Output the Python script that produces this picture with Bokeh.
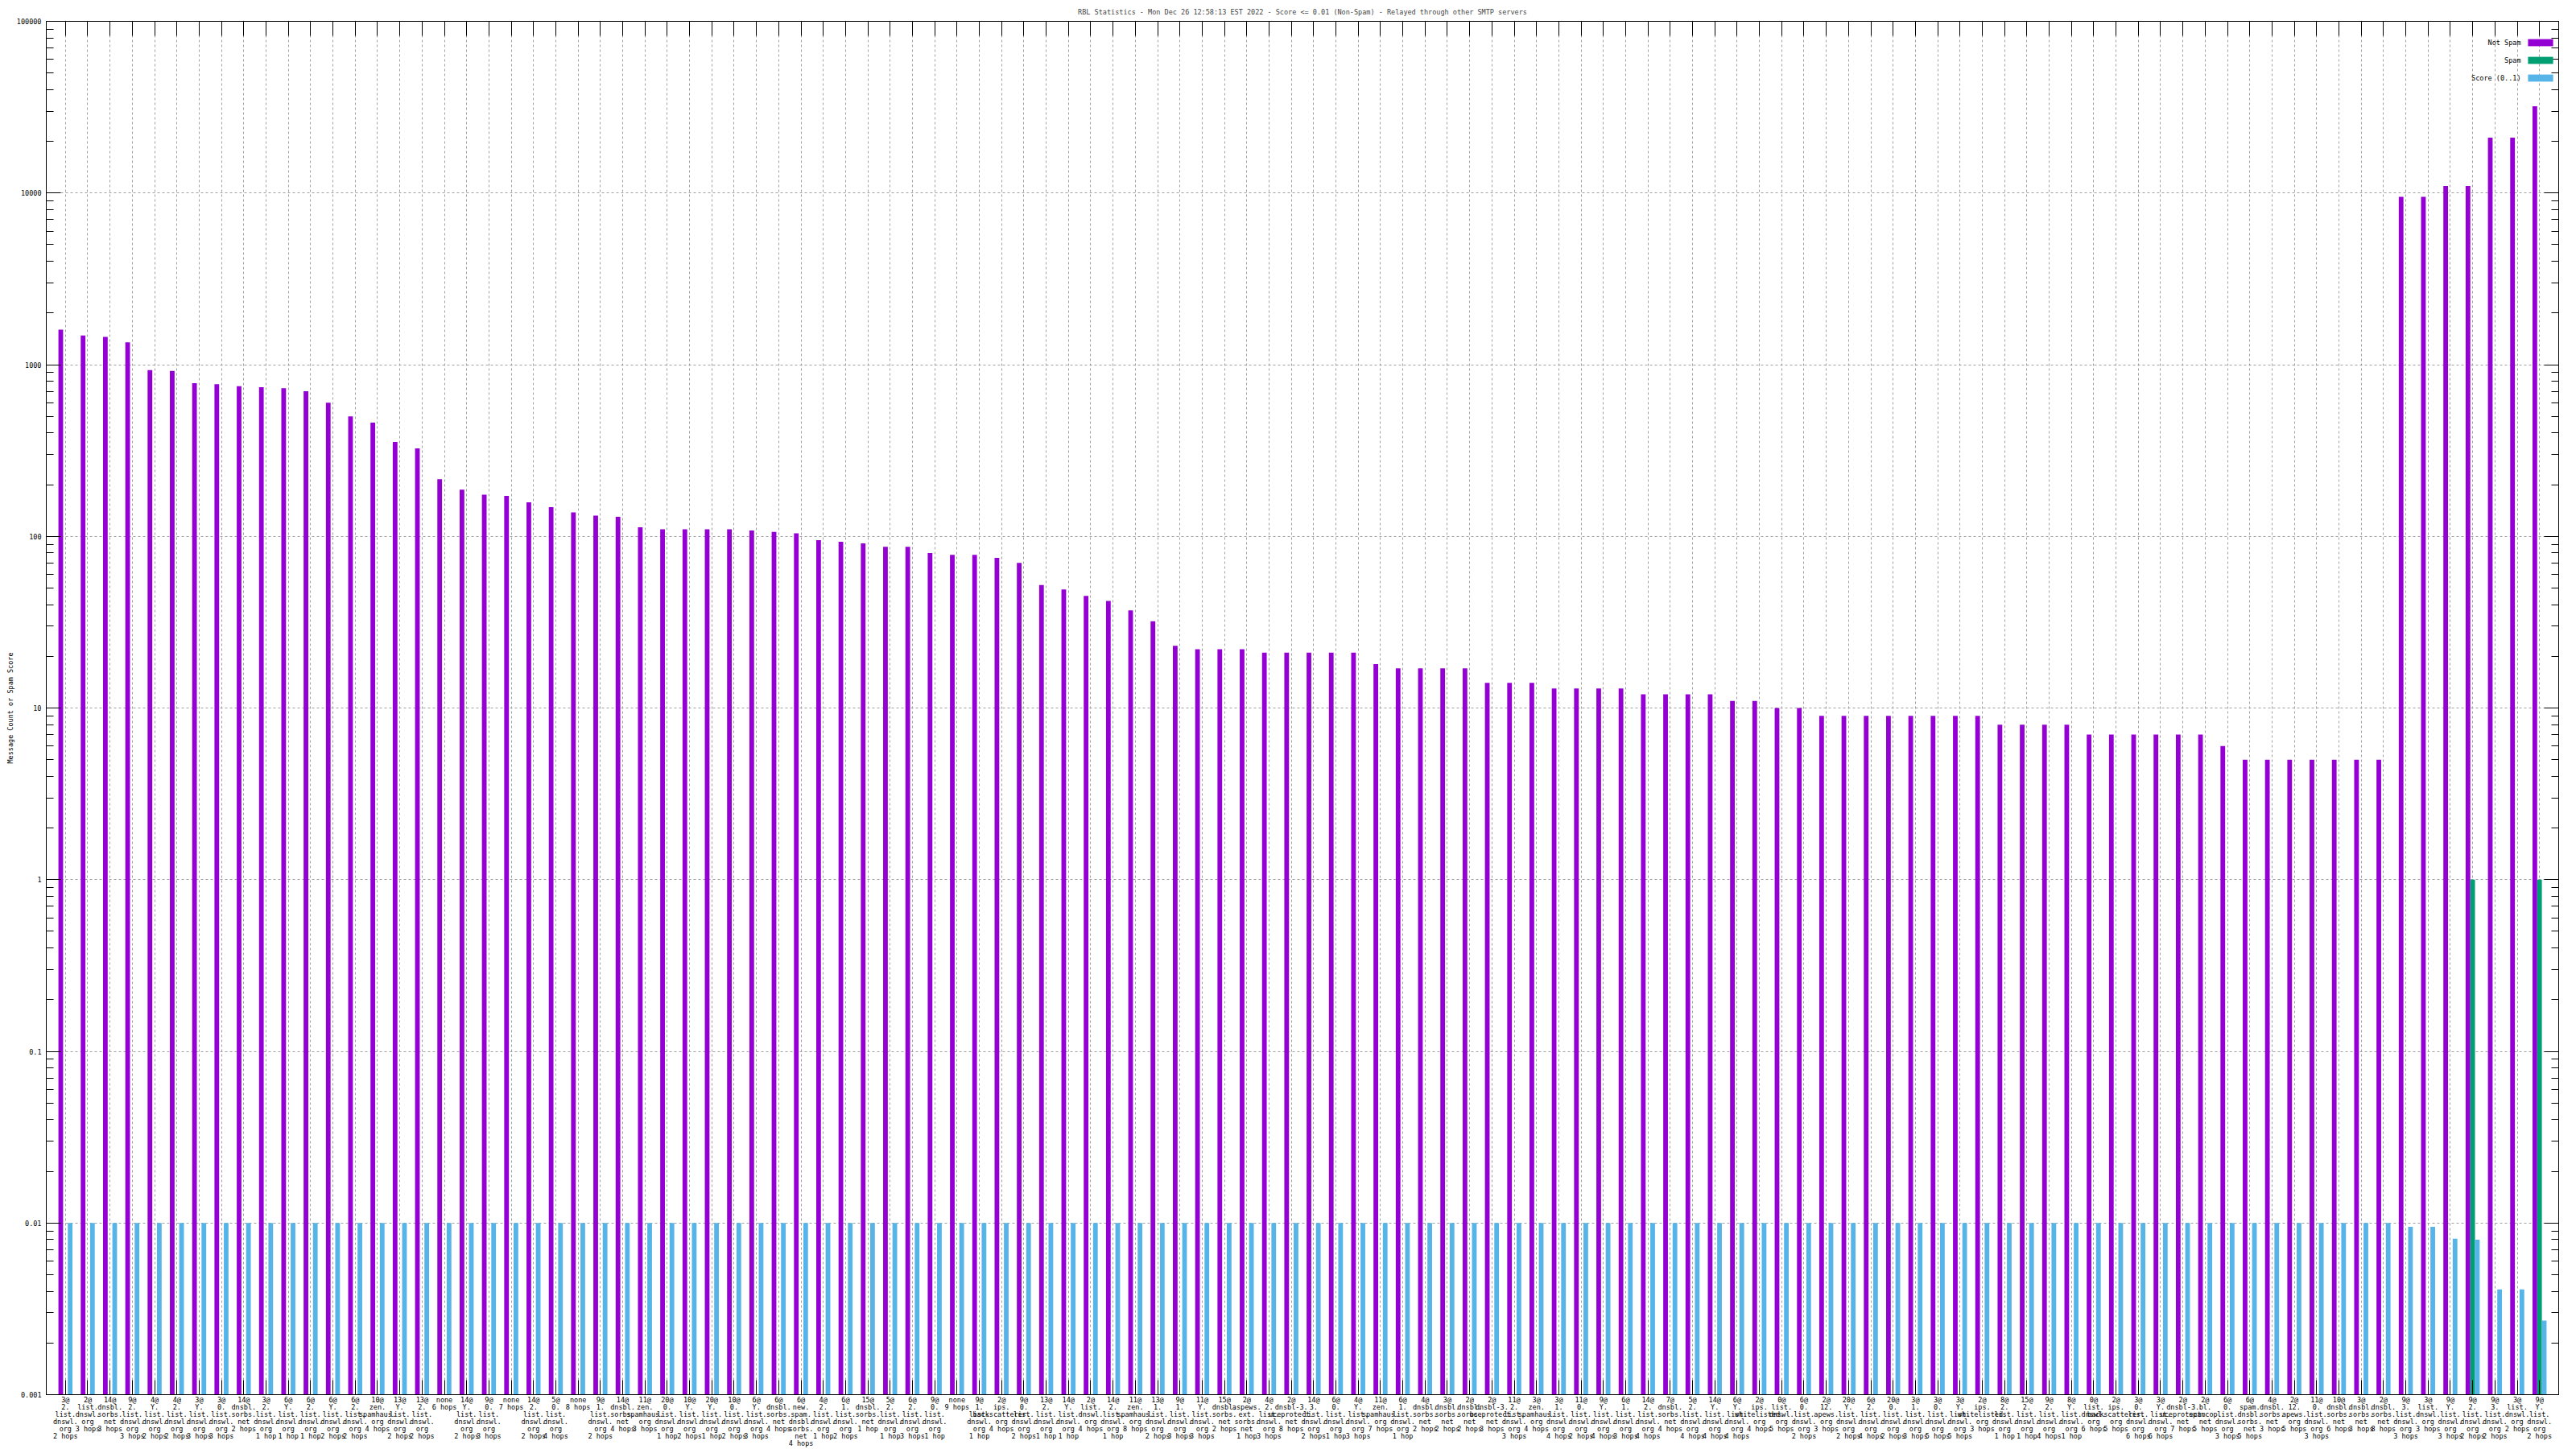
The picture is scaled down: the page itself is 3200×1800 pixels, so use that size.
from bokeh.plotting import figure
from bokeh.models import (FactorRange, Range1d, ColumnDataSource, FixedTicker, PrintfTickFormatter,
                          LogAxis, CategoricalAxis, CustomJSTickFormatter, Legend, LegendItem, Label)
from bokeh.transform import dodge
from bokeh.embed import file_html
from bokeh.resources import INLINE

TITLE = "RBL Statistics - Mon Dec 26 12:58:13 EST 2022 - Score <= 0.01 (Non-Spam) - Relayed through other SMTP servers"
Y_LABEL = "Message Count or Spam Score"
SERIES = ["Not Spam", "Spam", "Score (0..1)"]

categories = [
    "3@2.list.dnswl.org 2 hops", "2@list.dnswl.org 3 hops", "14@dnsbl.sorbs.net 3 hops",
    "9@2.list.dnswl.org 3 hops", "4@Y.list.dnswl.org 2 hops", "4@2.list.dnswl.org 2 hops",
    "3@Y.list.dnswl.org 3 hops", "3@0.list.dnswl.org 3 hops", "14@dnsbl.sorbs.net 2 hops",
    "3@2.list.dnswl.org 1 hop", "6@Y.list.dnswl.org 1 hop", "6@2.list.dnswl.org 1 hop",
    "6@Y.list.dnswl.org 2 hops", "6@2.list.dnswl.org 2 hops", "10@zen.spamhaus.org 4 hops",
    "13@Y.list.dnswl.org 2 hops", "13@2.list.dnswl.org 2 hops", "none 6 hops",
    "14@Y.list.dnswl.org 2 hops", "9@0.list.dnswl.org 3 hops", "none 7 hops",
    "14@2.list.dnswl.org 2 hops", "5@0.list.dnswl.org 4 hops", "none 8 hops",
    "9@1.list.dnswl.org 2 hops", "14@dnsbl.sorbs.net 4 hops", "11@zen.spamhaus.org 3 hops",
    "20@0.list.dnswl.org 1 hop", "10@Y.list.dnswl.org 2 hops", "20@Y.list.dnswl.org 1 hop",
    "10@0.list.dnswl.org 2 hops", "6@Y.list.dnswl.org 3 hops", "6@dnsbl.sorbs.net 4 hops",
    "6@new.spam.dnsbl.sorbs.net 4 hops", "4@2.list.dnswl.org 1 hop", "6@1.list.dnswl.org 2 hops",
    "15@dnsbl.sorbs.net 1 hop", "5@2.list.dnswl.org 1 hop", "6@2.list.dnswl.org 3 hops",
    "9@0.list.dnswl.org 1 hop", "none 9 hops", "9@1.list.dnswl.org 1 hop",
    "2@ips.backscatterer.org 4 hops", "9@0.list.dnswl.org 2 hops", "13@2.list.dnswl.org 1 hop",
    "14@Y.list.dnswl.org 1 hop", "2@list.dnswl.org 4 hops", "14@2.list.dnswl.org 1 hop",
    "11@zen.spamhaus.org 8 hops", "13@1.list.dnswl.org 2 hops", "9@1.list.dnswl.org 3 hops",
    "11@Y.list.dnswl.org 3 hops", "15@dnsbl.sorbs.net 2 hops", "2@aspews.ext.sorbs.net 1 hop",
    "4@2.list.dnswl.org 3 hops", "2@dnsbl-3.uceprotect.net 8 hops", "14@3.list.dnswl.org 2 hops",
    "6@0.list.dnswl.org 1 hop", "4@Y.list.dnswl.org 3 hops", "11@zen.spamhaus.org 7 hops",
    "6@1.list.dnswl.org 1 hop", "4@dnsbl.sorbs.net 2 hops", "3@dnsbl.sorbs.net 2 hops",
    "2@dnsbl.sorbs.net 2 hops", "2@dnsbl-3.uceprotect.net 3 hops", "11@2.list.dnswl.org 3 hops",
    "3@zen.spamhaus.org 4 hops", "3@1.list.dnswl.org 4 hops", "11@0.list.dnswl.org 2 hops",
    "9@Y.list.dnswl.org 4 hops", "6@1.list.dnswl.org 3 hops", "14@2.list.dnswl.org 4 hops",
    "7@dnsbl.sorbs.net 4 hops", "5@2.list.dnswl.org 4 hops", "14@Y.list.dnswl.org 4 hops",
    "6@Y.list.dnswl.org 4 hops", "2@ips.whitelisted.org 4 hops", "0@list.dnswl.org 5 hops",
    "6@0.list.dnswl.org 2 hops", "2@12.apews.org 3 hops", "20@Y.list.dnswl.org 2 hops",
    "6@2.list.dnswl.org 4 hops", "20@0.list.dnswl.org 2 hops", "3@1.list.dnswl.org 3 hops",
    "3@0.list.dnswl.org 5 hops", "3@Y.list.dnswl.org 5 hops", "2@ips.whitelisted.org 3 hops",
    "8@2.list.dnswl.org 1 hop", "15@2.list.dnswl.org 1 hop", "9@2.list.dnswl.org 4 hops",
    "8@Y.list.dnswl.org 1 hop", "0@list.dnswl.org 6 hops", "2@ips.backscatterer.org 5 hops",
    "3@0.list.dnswl.org 6 hops", "3@Y.list.dnswl.org 6 hops", "2@dnsbl-3.uceprotect.net 7 hops",
    "2@bl.spamcop.net 5 hops", "6@0.list.dnswl.org 3 hops", "6@spam.dnsbl.sorbs.net 5 hops",
    "4@dnsbl.sorbs.net 3 hops", "2@12.apews.org 5 hops", "11@0.list.dnswl.org 3 hops",
    "10@dnsbl.sorbs.net 6 hops", "3@dnsbl.sorbs.net 3 hops", "2@dnsbl.sorbs.net 8 hops",
    "9@3.list.dnswl.org 3 hops", "3@list.dnswl.org 3 hops", "9@Y.list.dnswl.org 3 hops",
    "9@2.list.dnswl.org 2 hops", "9@3.list.dnswl.org 2 hops", "3@list.dnswl.org 2 hops",
    "9@Y.list.dnswl.org 2 hops",
]

not_spam = [1600, 1480, 1450, 1350, 930, 920, 780, 770, 750, 740,
            730, 700, 600, 500, 460, 355, 325, 215, 187, 175,
            172, 158, 148, 138, 132, 130, 113, 110, 110, 110,
            110, 108, 106, 104, 95, 93, 91, 87, 87, 80,
            78, 78, 75, 70, 52, 49, 45, 42, 37, 32,
            23, 22, 22, 22, 21, 21, 21, 21, 21, 18,
            17, 17, 17, 17, 14, 14, 14, 13, 13, 13,
            13, 12, 12, 12, 12, 11, 11, 10, 10, 9,
            9, 9, 9, 9, 9, 9, 9, 8, 8, 8,
            8, 7, 7, 7, 7, 7, 7, 6, 5, 5,
            5, 5, 5, 5, 5, 9500, 9500, 11000, 11000, 21000,
            21000, 32000]

spam = [0] * 108 + [1, 0, 0, 1]

score = [0.01] * 105 + [0.0095, 0.0095, 0.0081, 0.008, 0.0041, 0.0041, 0.0027]

y_ticks = [0.001, 0.01, 0.1, 1, 10, 100, 1000, 10000, 100000]

PURPLE = "#9400d3"
GREEN = "#009e73"
BLUE = "#56b4e9"
FONT = "DejaVu Sans Mono"
FS = "8.5px"

FIG_W, FIG_H = 3200, 1800
B_LEFT, B_RIGHT, B_TOP, B_BOTTOM = 57, 22, 25, 65
EST_BOTTOM = 70   # space the multi-line category labels actually take
FRAME_W = FIG_W - B_LEFT - B_RIGHT
FRAME_H = FIG_H - B_TOP - EST_BOTTOM


def wrap(label):
    parts = label.split(" ")
    hops = " ".join(parts[-2:])
    host = " ".join(parts[:-2])
    if "@" in host:
        n, name = host.split("@", 1)
        segs = name.split(".")
        lines = [n + "@"] + [s + "." for s in segs[:-1]] + [segs[-1]]
    else:
        lines = [host]
    return "\n".join(lines + [hops])


factors = []
for c in categories:
    f = wrap(c)
    while f in factors:
        f += " "
    factors.append(f)

src = ColumnDataSource(dict(
    cat=factors,
    not_spam=not_spam,
    spam=[v if v > 0 else float("nan") for v in spam],
    score=score,
))

p = figure(width=FIG_W, height=FIG_H,
           x_range=FactorRange(factors=factors, range_padding=0.36, range_padding_units="absolute"),
           y_axis_type="log", y_range=Range1d(y_ticks[0], y_ticks[-1]),
           output_backend="svg", toolbar_location=None,
           min_border_left=B_LEFT, min_border_right=B_RIGHT, min_border_top=B_TOP,
           min_border_bottom=B_BOTTOM, title=TITLE)

p.title.text_font = FONT
p.title.text_font_size = FS
p.title.text_font_style = "normal"
p.title.align = "center"
p.title.standoff = 14

p.outline_line_color = "black"
p.outline_line_width = 1
p.background_fill_color = "white"

bottom = y_ticks[0]
W = 0.21
r1 = p.vbar(x=dodge("cat", -0.21, range=p.x_range), top="not_spam", bottom=bottom, width=W,
            source=src, fill_color=PURPLE, line_color=None)
r2 = p.vbar(x=dodge("cat", 0.0, range=p.x_range), top="spam", bottom=bottom, width=W,
            source=src, fill_color=GREEN, line_color=None)
r3 = p.vbar(x=dodge("cat", 0.21, range=p.x_range), top="score", bottom=bottom, width=W,
            source=src, fill_color=BLUE, line_color=None)

minor = [k * 10.0 ** e for e in range(-3, 5) for k in range(2, 10)]
yticker = FixedTicker(ticks=y_ticks, minor_ticks=minor)


def style_axis(ax):
    ax.axis_line_color = "black"
    ax.major_tick_line_color = "black"
    ax.minor_tick_line_color = "black"
    ax.major_tick_in = 18
    ax.major_tick_out = 0
    ax.minor_tick_in = 9
    ax.minor_tick_out = 0
    ax.major_label_text_font = FONT
    ax.major_label_text_font_size = FS
    ax.major_label_text_color = "black"
    ax.axis_label_text_font = FONT
    ax.axis_label_text_font_size = FS
    ax.axis_label_text_font_style = "normal"
    ax.axis_label_text_color = "black"


yax = p.yaxis[0]
yax.ticker = yticker
yax.formatter = PrintfTickFormatter(format="%g")
yax.axis_label = Y_LABEL
yax.major_label_standoff = 6
yax.axis_label_standoff = 0
style_axis(yax)

xax = p.xaxis[0]
style_axis(xax)
xax.major_label_standoff = 1
xax.major_label_text_line_height = 0.9
xax.major_label_orientation = "horizontal"

right = LogAxis(ticker=yticker, formatter=CustomJSTickFormatter(code="return ''"))
style_axis(right)
right.major_label_standoff = 0
right.major_label_text_font_size = "0px"
p.add_layout(right, "right")

top = CategoricalAxis()
style_axis(top)
top.major_label_standoff = 0
top.major_label_text_font_size = "0px"
top.major_label_text_alpha = 0
p.add_layout(top, "above")

p.xgrid.grid_line_color = "#a0a0a0"
p.xgrid.grid_line_dash = "3 3"
p.ygrid.grid_line_color = "#a0a0a0"
p.ygrid.grid_line_dash = "3 3"
p.ygrid.ticker = yticker

# legend swatches (top right, inside the frame); the texts sit to their left
SW_X = FRAME_W - 42          # left edge of swatches, from frame left
SW_TOP = 20                  # top of first swatch, from frame top
PITCH = 22
legend = Legend(items=[LegendItem(label="", renderers=[r1]),
                       LegendItem(label="", renderers=[r2]),
                       LegendItem(label="", renderers=[r3])],
                location=(SW_X, FRAME_H - SW_TOP - (2 * PITCH + 11)),
                glyph_width=39, glyph_height=11, label_height=11, label_width=0,
                spacing=PITCH - 11, padding=0, margin=0, label_standoff=0,
                background_fill_alpha=0, border_line_color=None,
                label_text_font=FONT, label_text_font_size=FS)
p.add_layout(legend)

for i, name in enumerate(SERIES):
    p.add_layout(Label(x=SW_X - 5, y=FRAME_H - SW_TOP - 5.5 - i * PITCH,
                       x_units="screen", y_units="screen", text=name,
                       text_align="right", text_baseline="middle",
                       text_font=FONT, text_font_size=FS, text_color="black"))

open("out.html", "w").write(file_html(p, INLINE))
